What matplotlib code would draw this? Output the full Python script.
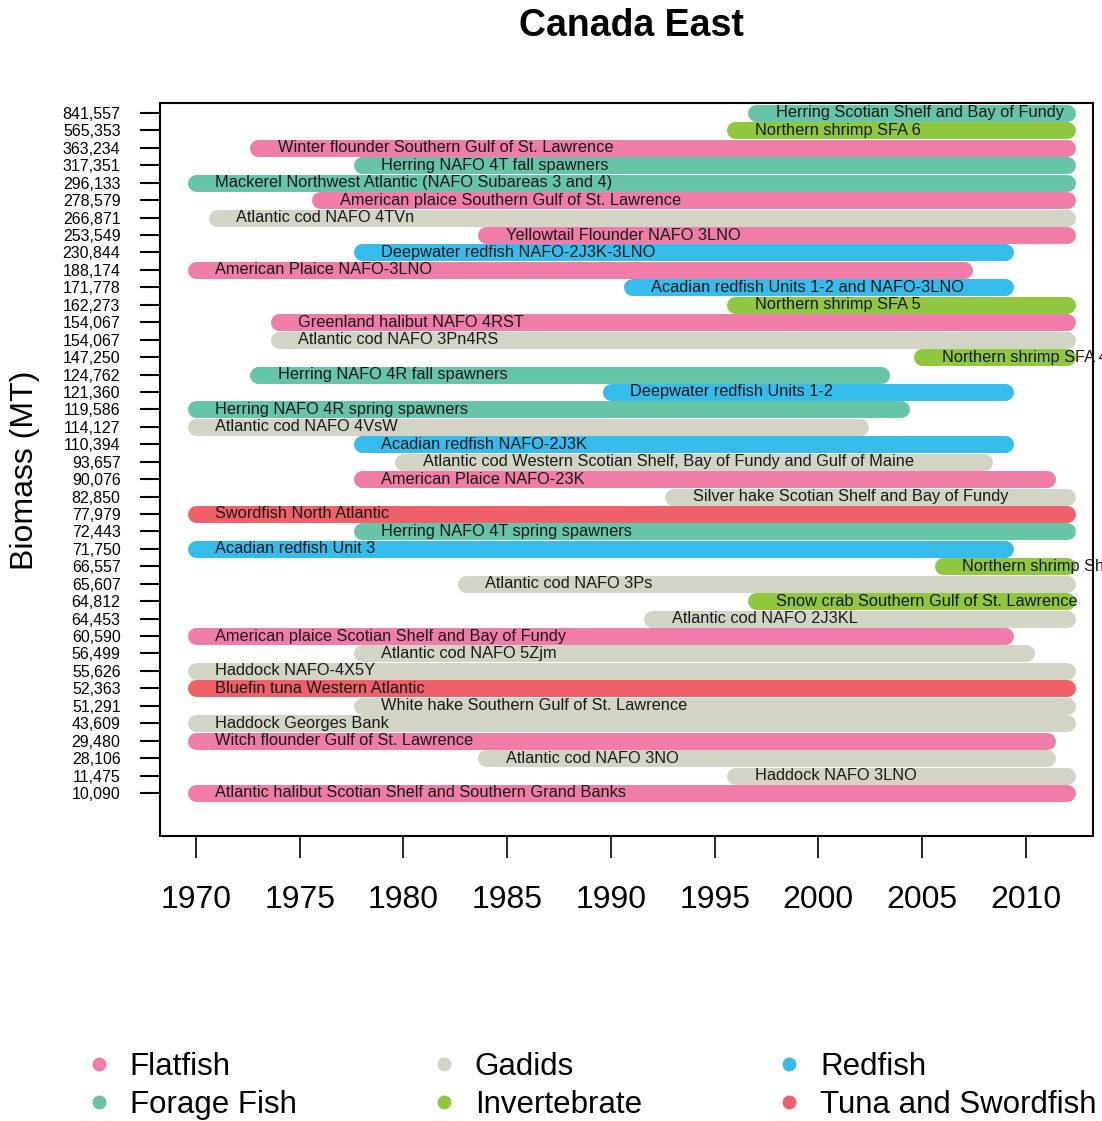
import matplotlib
matplotlib.use("Agg")
import matplotlib.pyplot as plt
from matplotlib.lines import Line2D

plt.rcParams['font.family'] = ['Liberation Sans', 'DejaVu Sans']

# stocks, top row first
biomass = ["841,557", "565,353", "363,234", "317,351", "296,133", "278,579", "266,871",
           "253,549", "230,844", "188,174", "171,778", "162,273", "154,067", "154,067",
           "147,250", "124,762", "121,360", "119,586", "114,127", "110,394", "93,657",
           "90,076", "82,850", "77,979", "72,443", "71,750", "66,557", "65,607", "64,812",
           "64,453", "60,590", "56,499", "55,626", "52,363", "51,291", "43,609", "29,480",
           "28,106", "11,475", "10,090"]

stocks = ["Herring Scotian Shelf and Bay of Fundy",
          "Northern shrimp SFA 6",
          "Winter flounder Southern Gulf of St. Lawrence",
          "Herring NAFO 4T fall spawners",
          "Mackerel Northwest Atlantic (NAFO Subareas 3 and 4)",
          "American plaice Southern Gulf of St. Lawrence",
          "Atlantic cod NAFO 4TVn",
          "Yellowtail Flounder NAFO 3LNO",
          "Deepwater redfish NAFO-2J3K-3LNO",
          "American Plaice NAFO-3LNO",
          "Acadian redfish Units 1-2 and NAFO-3LNO",
          "Northern shrimp SFA 5",
          "Greenland halibut NAFO 4RST",
          "Atlantic cod NAFO 3Pn4RS",
          "Northern shrimp SFA 4",
          "Herring NAFO 4R fall spawners",
          "Deepwater redfish Units 1-2",
          "Herring NAFO 4R spring spawners",
          "Atlantic cod NAFO 4VsW",
          "Acadian redfish NAFO-2J3K",
          "Atlantic cod Western Scotian Shelf, Bay of Fundy and Gulf of Maine",
          "American Plaice NAFO-23K",
          "Silver hake Scotian Shelf and Bay of Fundy",
          "Swordfish North Atlantic",
          "Herring NAFO 4T spring spawners",
          "Acadian redfish Unit 3",
          "Northern shrimp Shrimp Fishing Areas 2 and 3",
          "Atlantic cod NAFO 3Ps",
          "Snow crab Southern Gulf of St. Lawrence",
          "Atlantic cod NAFO 2J3KL",
          "American plaice Scotian Shelf and Bay of Fundy",
          "Atlantic cod NAFO 5Zjm",
          "Haddock NAFO-4X5Y",
          "Bluefin tuna Western Atlantic",
          "White hake Southern Gulf of St. Lawrence",
          "Haddock Georges Bank",
          "Witch flounder Gulf of St. Lawrence",
          "Atlantic cod NAFO 3NO",
          "Haddock NAFO 3LNO",
          "Atlantic halibut Scotian Shelf and Southern Grand Banks"]

start_year = [1997, 1996, 1973, 1978, 1970, 1976, 1971, 1984, 1978, 1970,
              1991, 1996, 1974, 1974, 2005, 1973, 1990, 1970, 1970, 1978,
              1980, 1978, 1993, 1970, 1978, 1970, 2006, 1983, 1997, 1992,
              1970, 1978, 1970, 1970, 1978, 1970, 1970, 1984, 1996, 1970]

end_year = [2012, 2012, 2012, 2012, 2012, 2012, 2012, 2012, 2009, 2007,
            2009, 2012, 2012, 2012, 2012, 2003, 2009, 2004, 2002, 2009,
            2008, 2011, 2012, 2012, 2012, 2009, 2012, 2012, 2012, 2012,
            2009, 2010, 2012, 2012, 2012, 2012, 2011, 2011, 2012, 2012]

group = ["Forage Fish", "Invertebrate", "Flatfish", "Forage Fish", "Forage Fish",
         "Flatfish", "Gadids", "Flatfish", "Redfish", "Flatfish",
         "Redfish", "Invertebrate", "Flatfish", "Gadids", "Invertebrate",
         "Forage Fish", "Redfish", "Forage Fish", "Gadids", "Redfish",
         "Gadids", "Flatfish", "Gadids", "Tuna and Swordfish", "Forage Fish",
         "Redfish", "Invertebrate", "Gadids", "Invertebrate", "Gadids",
         "Flatfish", "Gadids", "Gadids", "Tuna and Swordfish", "Gadids",
         "Gadids", "Flatfish", "Gadids", "Gadids", "Flatfish"]

legend_order = ["Flatfish", "Forage Fish", "Gadids", "Invertebrate", "Redfish", "Tuna and Swordfish"]
group_colors = {"Flatfish": "#F07CA8", "Forage Fish": "#66C4A8", "Gadids": "#D3D3C6",
                "Invertebrate": "#8FC73E", "Redfish": "#35BCEB", "Tuna and Swordfish": "#EF6068"}

n = len(stocks)
ypos = [n - i for i in range(n)]

fig = plt.figure(figsize=(11.02, 11.21), dpi=100)
ax = fig.add_axes([0.1452, 0.2542, 0.8466, 0.6539])

for y, s, e, g, name in zip(ypos, start_year, end_year, group, stocks):
    ln = ax.hlines(y, s, e, colors=group_colors[g], lw=12.2)
    ln.set_capstyle('round')
    ax.annotate(name, (s, y), xytext=(14, 0), textcoords='offset points',
                ha='left', va='center', fontsize=11.8, color='#1a1a1a')

ax.set_xlim(1968.27, 2013.23)
ax.set_ylim(-1.47, 40.57)
ax.set_xticks(range(1970, 2011, 5))
ax.tick_params(axis='x', labelsize=23, length=16, width=1.2, pad=19)
ax.set_yticks(ypos)
ax.set_yticklabels(biomass)
ax.tick_params(axis='y', labelsize=11.5, length=14.4, width=1.5, pad=14)
for sp in ax.spines.values():
    sp.set_linewidth(1.5)

fig.text(631 / 1102, 1 - 26 / 1121, "Canada East", ha='center', va='center',
         fontsize=27, fontweight='bold')
fig.text(25 / 1102, 1 - 470 / 1121, "Biomass (MT)", ha='center', va='center',
         rotation=90, fontsize=23)

handles = [Line2D([], [], ls='none', marker='o', ms=10, mec='none',
                  color=group_colors[g], label=g) for g in legend_order]
fig.legend(handles=handles, loc='upper left', bbox_to_anchor=(83 / 1102, 1 - 1052 / 1121),
           ncol=3, frameon=False, fontsize=22.5, handlelength=1.0, handletextpad=0.5,
           columnspacing=4.2, labelspacing=0.25, borderpad=0, borderaxespad=0)

fig.savefig("out.png", dpi=100)
